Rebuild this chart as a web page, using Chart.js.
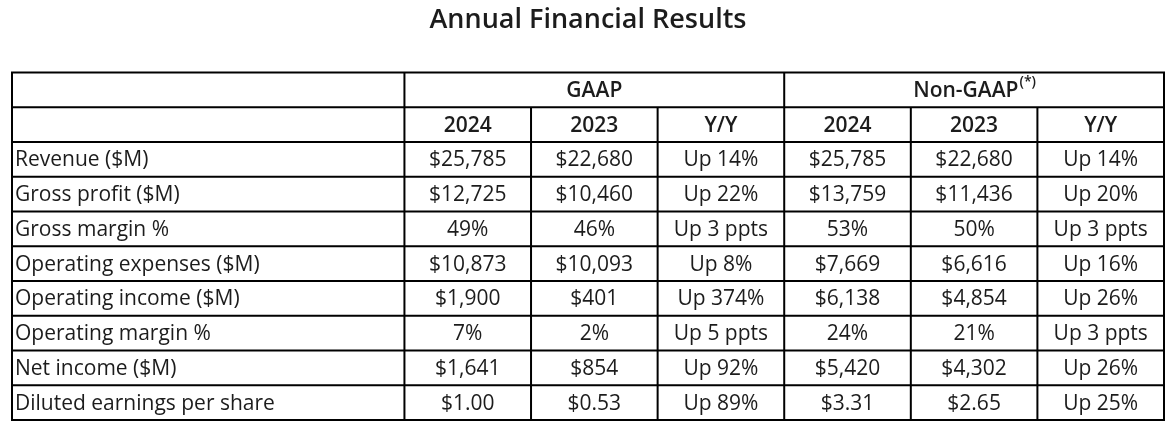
<!DOCTYPE html>
<html>
<head>
<meta charset="utf-8">
<script src="https://cdn.jsdelivr.net/npm/chart.js@4"></script>
<style>
  body { margin: 0; background: #fff; }
</style>
</head>
<body>
<canvas id="chart" width="1174" height="433"></canvas>
<script>
var groupHeaders = ["GAAP", "Non-GAAP"];
var colHeaders = ["2024", "2023", "Y/Y", "2024", "2023", "Y/Y"];
var rowLabels = ["Revenue ($M)", "Gross profit ($M)", "Gross margin %", "Operating expenses ($M)",
  "Operating income ($M)", "Operating margin %", "Net income ($M)", "Diluted earnings per share"];
var gaap2024 = ["$25,785", "$12,725", "49%", "$10,873", "$1,900", "7%", "$1,641", "$1.00"];
var gaap2023 = ["$22,680", "$10,460", "46%", "$10,093", "$401", "2%", "$854", "$0.53"];
var gaapYY = ["Up 14%", "Up 22%", "Up 3 ppts", "Up 8%", "Up 374%", "Up 5 ppts", "Up 92%", "Up 89%"];
var non2024 = ["$25,785", "$13,759", "53%", "$7,669", "$6,138", "24%", "$5,420", "$3.31"];
var non2023 = ["$22,680", "$11,436", "50%", "$6,616", "$4,854", "21%", "$4,302", "$2.65"];
var nonYY = ["Up 14%", "Up 20%", "Up 3 ppts", "Up 16%", "Up 26%", "Up 3 ppts", "Up 26%", "Up 25%"];

// label column is about 3.1 value columns wide
var labelWidth = 3.1;
var columns = [gaap2024, gaap2023, gaapYY, non2024, non2023, nonYY];
var nRows = rowLabels.length + 2;
var textColor = "#1c1c1c";
var fontFam = "'Open Sans', sans-serif";

const tablePlugin = {
  id: "table",
  afterDraw(chart) {
    const ctx = chart.ctx;
    const x = chart.scales.x, y = chart.scales.y;
    const px = v => x.getPixelForValue(v);
    const py = v => y.getPixelForValue(v);
    ctx.save();
    ctx.strokeStyle = "#000";
    ctx.lineWidth = 2;
    ctx.beginPath();
    // horizontal lines
    for (let r = 0; r <= nRows; r++) {
      ctx.moveTo(px(0) - 1, py(r)); ctx.lineTo(px(labelWidth + 6) + 1, py(r));
    }
    // vertical lines (inner year columns start below the group header)
    const xs = [0, labelWidth, labelWidth + 1, labelWidth + 2, labelWidth + 3, labelWidth + 4, labelWidth + 5, labelWidth + 6];
    xs.forEach((v, i) => {
      const top = (i === 2 || i === 3 || i === 5 || i === 6) ? 1 : 0;
      ctx.moveTo(px(v), py(top)); ctx.lineTo(px(v), py(nRows));
    });
    ctx.stroke();

    ctx.fillStyle = textColor;
    ctx.textBaseline = "middle";
    const yOff = 1;
    // group headers
    ctx.font = "600 21px " + fontFam;
    ctx.textAlign = "center";
    ctx.fillText(groupHeaders[0], px(labelWidth + 1.5), py(0.5) + yOff);
    const ng = groupHeaders[1];
    const w1 = ctx.measureText(ng).width;
    ctx.font = "600 14px " + fontFam;
    const w2 = ctx.measureText("(*)").width;
    const cx = px(labelWidth + 4.5), start = cx - (w1 + w2) / 2;
    ctx.textAlign = "left";
    ctx.font = "600 21px " + fontFam;
    ctx.fillText(ng, start, py(0.5) + yOff);
    ctx.font = "600 14px " + fontFam;
    ctx.fillText("(*)", start + w1 + 1, py(0.5) - 8);
    // column headers
    ctx.font = "600 21px " + fontFam;
    ctx.textAlign = "center";
    colHeaders.forEach((h, i) => ctx.fillText(h, px(labelWidth + i + 0.5), py(1.5) + yOff));
    // body
    ctx.font = "21px " + fontFam;
    rowLabels.forEach((lab, r) => {
      ctx.textAlign = "left";
      ctx.fillText(lab, px(0) + 3, py(r + 2.5) + yOff);
      ctx.textAlign = "center";
      columns.forEach((col, c) => ctx.fillText(col[r], px(labelWidth + c + 0.5), py(r + 2.5) + yOff));
    });
    ctx.restore();
  }
};

new Chart("chart", {
  type: "scatter",
  data: { datasets: [] },
  options: {
    responsive: false,
    animation: false,
    layout: { padding: { left: 12, right: 10, bottom: 13, top: 0 } },
    plugins: {
      legend: { display: false },
      tooltip: { enabled: false },
      title: {
        display: true,
        text: "Annual Financial Results",
        color: textColor,
        font: { family: fontFam, size: 27, weight: "600" },
        padding: { top: 4, bottom: 36 }
      }
    },
    scales: {
      x: { display: false, min: 0, max: labelWidth + 6 },
      y: { display: false, min: 0, max: nRows, reverse: true }
    }
  },
  plugins: [tablePlugin]
});
</script>
</body>
</html>
